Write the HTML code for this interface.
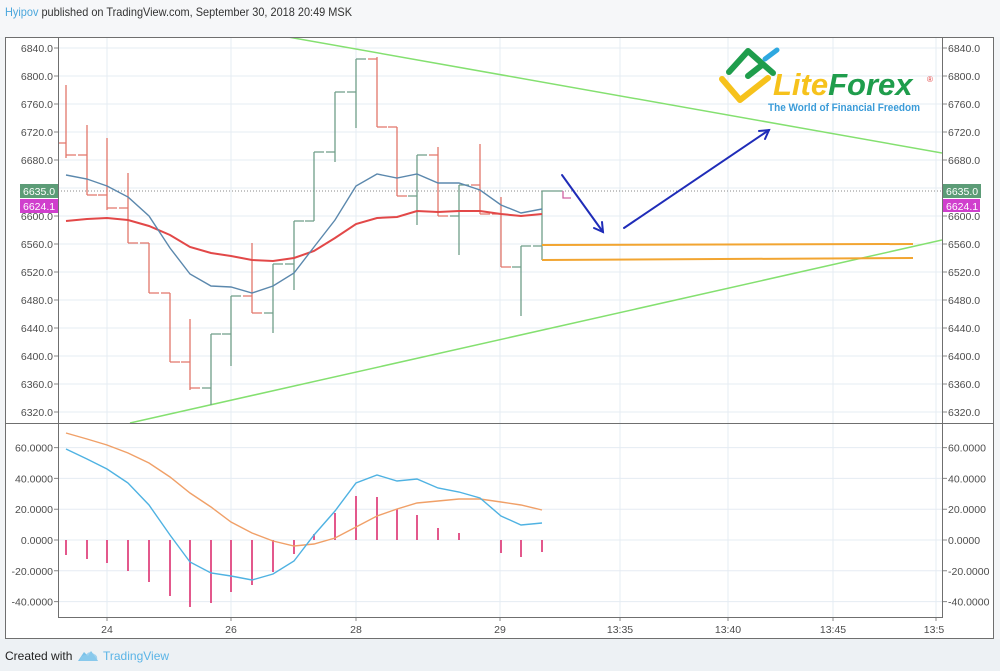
<!DOCTYPE html>
<html><head><meta charset="utf-8">
<style>
html,body{margin:0;padding:0;width:1000px;height:671px;overflow:hidden;background:#f3f5f7;}
svg{display:block;font-family:"Liberation Sans",sans-serif;}
</style></head>
<body>
<svg width="1000" height="671" viewBox="0 0 1000 671" xmlns="http://www.w3.org/2000/svg">
<rect x="0" y="0" width="1000" height="37" fill="#f6f7f9"/>
<rect x="0" y="639" width="1000" height="32" fill="#edf1f4"/>
<!-- header -->
<text x="5" y="16" font-size="12" fill="#333" textLength="347" lengthAdjust="spacingAndGlyphs"><tspan fill="#4aa6dc">Hyipov</tspan> published on TradingView.com, September 30, 2018 20:49 MSK</text>
<!-- frame -->
<rect x="5.5" y="37.5" width="988" height="601" fill="#ffffff" stroke="#6f6f6f" stroke-width="1"/>
<defs>
<clipPath id="cm"><rect x="58" y="38" width="884" height="385"/></clipPath>
<clipPath id="cl"><rect x="58" y="423" width="884" height="194"/></clipPath>
</defs>
<!-- grid -->
<g stroke="#e5ecf3" stroke-width="1">
<line x1="58" x2="942" y1="48" y2="48"/><line x1="58" x2="942" y1="76" y2="76"/><line x1="58" x2="942" y1="104" y2="104"/><line x1="58" x2="942" y1="132" y2="132"/><line x1="58" x2="942" y1="160" y2="160"/><line x1="58" x2="942" y1="188" y2="188"/><line x1="58" x2="942" y1="216" y2="216"/><line x1="58" x2="942" y1="244" y2="244"/><line x1="58" x2="942" y1="272" y2="272"/><line x1="58" x2="942" y1="300" y2="300"/><line x1="58" x2="942" y1="328" y2="328"/><line x1="58" x2="942" y1="356" y2="356"/><line x1="58" x2="942" y1="384" y2="384"/><line x1="58" x2="942" y1="412" y2="412"/>
<line x1="58" x2="942" y1="447.6" y2="447.6"/><line x1="58" x2="942" y1="478.4" y2="478.4"/><line x1="58" x2="942" y1="509.2" y2="509.2"/><line x1="58" x2="942" y1="540" y2="540"/><line x1="58" x2="942" y1="570.8" y2="570.8"/><line x1="58" x2="942" y1="601.6" y2="601.6"/>
<line x1="107" x2="107" y1="38" y2="617"/><line x1="231" x2="231" y1="38" y2="617"/><line x1="356" x2="356" y1="38" y2="617"/><line x1="500" x2="500" y1="38" y2="617"/><line x1="620" x2="620" y1="38" y2="617"/><line x1="728" x2="728" y1="38" y2="617"/><line x1="833" x2="833" y1="38" y2="617"/><line x1="936" x2="936" y1="38" y2="617"/>
</g>
<!-- logo -->
<g>
<polyline points="722,79 740,100 768,78" fill="none" stroke="#f6c21c" stroke-width="6" stroke-linecap="round" stroke-linejoin="round"/>
<polyline points="729,72 748,51 773,73" fill="none" stroke="#1f9d4c" stroke-width="6" stroke-linecap="round" stroke-linejoin="round"/>
<line x1="748" y1="76" x2="762" y2="65" stroke="#1f9d4c" stroke-width="6" stroke-linecap="round"/>
<line x1="765" y1="59" x2="777" y2="50" stroke="#2ea8e0" stroke-width="5" stroke-linecap="round"/>
<text x="773" y="95" font-size="31" font-weight="bold" font-style="italic"><tspan fill="#f6c21c">Lite</tspan><tspan fill="#1f9d4c">Forex</tspan></text>
<text x="927" y="82" font-size="8" fill="#e04040">®</text>
<text x="768" y="111" font-size="11" font-weight="bold" fill="#3a9bd8" textLength="152" lengthAdjust="spacingAndGlyphs">The World of Financial Freedom</text>
</g>
<!-- main plot -->
<g clip-path="url(#cm)">
<line x1="288" y1="37" x2="942" y2="153" stroke="#84e070" stroke-width="1.5"/>
<line x1="130" y1="423" x2="942" y2="240" stroke="#84e070" stroke-width="1.5"/>
<line x1="58" y1="191" x2="942" y2="191" stroke="#8a8a8a" stroke-width="1" stroke-dasharray="1,2"/>
<!-- bars -->
<g stroke="#e2766a" stroke-width="1.3" fill="none">
<path d="M66 85V158M58 143H66M66 155H76"/>
<path d="M87 125V195M78 155H87M87 195H97"/>
<path d="M107 138V210M98 195H107M107 208H117"/>
<path d="M128 173V243M119 208H128M128 243H138"/>
<path d="M149 243V293M140 243H149M149 293H159"/>
<path d="M170 293V362M161 293H170M170 362H180"/>
<path d="M190 319V390M181 362H190M190 388H200"/>
<path d="M252 243V313M243 296H252M252 313H262"/>
<path d="M377 57V127M368 59H377M377 127H387"/>
<path d="M397 127V196M388 127H397M397 196H407"/>
<path d="M438 147V216M429 155H438M438 216H448"/>
<path d="M480 144V214M471 185H480M480 214H490"/>
<path d="M501 197V267M492 214H501M501 267H511"/>
</g>
<g stroke="#d060a0" stroke-width="1.3" fill="none"><path d="M563 191V198H571"/></g>
<g stroke="#6f9e89" stroke-width="1.3" fill="none">
<path d="M211 334V405M202 388H211M211 334H221"/>
<path d="M231 296V366M222 334H231M231 296H241"/>
<path d="M273 264V333M264 313H273M273 264H283"/>
<path d="M294 221V290M285 264H294M294 221H304"/>
<path d="M314 152V221M305 221H314M314 152H324"/>
<path d="M335 92V162M326 152H335M335 92H345"/>
<path d="M356 59V128M347 92H356M356 59H366"/>
<path d="M417 155V225M408 196H417M417 155H427"/>
<path d="M459 185V255M450 216H459M459 185H469"/>
<path d="M521 246V316M512 267H521M521 246H531"/>
<path d="M542 191V260M533 246H542M542 191H562"/>
</g>
<polyline fill="none" stroke="#e24848" stroke-width="2" points="66,221 87,219 107,218 128,220 149,226 170,235 190,247 211,253 231,256 252,260 273,261 294,258 314,251 335,238 356,224 377,218 397,217 417,211 438,212 459,211 480,211 501,214 521,216 542,214"/>
<polyline fill="none" stroke="#5b88ad" stroke-width="1.4" points="66,175 87,179 107,186 128,197 149,216 170,248 190,274 211,286 231,287 252,293 273,286 294,273 314,247 335,220 356,186 377,174 397,178 417,174 438,183 459,183 480,190 501,205 521,213 542,209"/>
<line x1="542" y1="245" x2="913" y2="244" stroke="#f2a531" stroke-width="2"/>
<line x1="542" y1="260" x2="913" y2="258" stroke="#f2a531" stroke-width="2"/>
<g stroke="#1f2cb8" stroke-width="2" fill="none" stroke-linecap="round">
<line x1="562" y1="175" x2="603" y2="232"/><polyline points="602,222 603,232 594,228"/>
<line x1="624" y1="228" x2="769" y2="130"/><polyline points="759,131 769,130 765,139"/>
</g>
</g>
<!-- lower plot -->
<g clip-path="url(#cl)">
<g stroke="#e0457f" stroke-width="1.8">
<line x1="66" x2="66" y1="540" y2="555"/><line x1="87" x2="87" y1="540" y2="559"/><line x1="107" x2="107" y1="540" y2="563"/><line x1="128" x2="128" y1="540" y2="571"/><line x1="149" x2="149" y1="540" y2="582"/><line x1="170" x2="170" y1="540" y2="596"/><line x1="190" x2="190" y1="540" y2="607"/><line x1="211" x2="211" y1="540" y2="603"/><line x1="231" x2="231" y1="540" y2="592"/><line x1="252" x2="252" y1="540" y2="585"/><line x1="273" x2="273" y1="540" y2="572"/><line x1="294" x2="294" y1="540" y2="554"/><line x1="314" x2="314" y1="540" y2="534"/><line x1="335" x2="335" y1="540" y2="513"/><line x1="356" x2="356" y1="540" y2="496"/><line x1="377" x2="377" y1="540" y2="497"/><line x1="397" x2="397" y1="540" y2="509"/><line x1="417" x2="417" y1="540" y2="515"/><line x1="438" x2="438" y1="540" y2="528"/><line x1="459" x2="459" y1="540" y2="533"/><line x1="501" x2="501" y1="540" y2="553"/><line x1="521" x2="521" y1="540" y2="557"/><line x1="542" x2="542" y1="540" y2="552"/>
</g>
<polyline fill="none" stroke="#f0a068" stroke-width="1.4" points="66,433 87,439 107,445 128,453 149,463 170,477 190,493 211,507 231,522 252,533 273,541 294,546 314,544 335,538 356,527 377,516 397,509 417,503 438,501 459,499 480,499 501,502 521,505 542,510"/>
<polyline fill="none" stroke="#4fb2e2" stroke-width="1.4" points="66,449 87,459 107,469 128,483 149,505 170,535 190,562 211,573 231,576 252,580 273,574 294,561 314,535 335,511 356,483 377,475 397,481 417,479 438,488 459,492 480,498 501,516 521,525 542,523"/>
</g>
<!-- axes lines -->
<g stroke="#6f6f6f" stroke-width="1">
<line x1="58.5" y1="37" x2="58.5" y2="617"/>
<line x1="942.5" y1="37" x2="942.5" y2="617"/>
<line x1="5" y1="423.5" x2="994" y2="423.5"/>
<line x1="58" y1="617.5" x2="943" y2="617.5"/>
</g>
<g stroke="#888" stroke-width="1">
<path d="M54 48H58M54 76H58M54 104H58M54 132H58M54 160H58M54 188H58M54 216H58M54 244H58M54 272H58M54 300H58M54 328H58M54 356H58M54 384H58M54 412H58"/>
<path d="M943 48H947M943 76H947M943 104H947M943 132H947M943 160H947M943 188H947M943 216H947M943 244H947M943 272H947M943 300H947M943 328H947M943 356H947M943 384H947M943 412H947"/>
<path d="M54 447.6H58M54 478.4H58M54 509.2H58M54 540H58M54 570.8H58M54 601.6H58"/>
<path d="M943 447.6H947M943 478.4H947M943 509.2H947M943 540H947M943 570.8H947M943 601.6H947"/>
<path d="M107 618V621M231 618V621M356 618V621M500 618V621M620 618V621M728 618V621M833 618V621M936 618V621"/>
</g>
<!-- labels -->
<g font-size="10.5" fill="#4d4d4d" text-anchor="end">
<text x="53" y="52">6840.0</text><text x="53" y="80">6800.0</text><text x="53" y="108">6760.0</text><text x="53" y="136">6720.0</text><text x="53" y="164">6680.0</text><text x="53" y="220">6600.0</text><text x="53" y="248">6560.0</text><text x="53" y="276">6520.0</text><text x="53" y="304">6480.0</text><text x="53" y="332">6440.0</text><text x="53" y="360">6400.0</text><text x="53" y="388">6360.0</text><text x="53" y="416">6320.0</text>
<text x="53" y="451.6">60.0000</text><text x="53" y="482.4">40.0000</text><text x="53" y="513.2">20.0000</text><text x="53" y="544">0.0000</text><text x="53" y="574.8">-20.0000</text><text x="53" y="605.6">-40.0000</text>
</g>
<g font-size="10.5" fill="#4d4d4d">
<text x="948" y="52">6840.0</text><text x="948" y="80">6800.0</text><text x="948" y="108">6760.0</text><text x="948" y="136">6720.0</text><text x="948" y="164">6680.0</text><text x="948" y="220">6600.0</text><text x="948" y="248">6560.0</text><text x="948" y="276">6520.0</text><text x="948" y="304">6480.0</text><text x="948" y="332">6440.0</text><text x="948" y="360">6400.0</text><text x="948" y="388">6360.0</text><text x="948" y="416">6320.0</text>
<text x="948" y="451.6">60.0000</text><text x="948" y="482.4">40.0000</text><text x="948" y="513.2">20.0000</text><text x="948" y="544">0.0000</text><text x="948" y="574.8">-20.0000</text><text x="948" y="605.6">-40.0000</text>
</g>
<g font-size="10.5" fill="#4d4d4d" text-anchor="middle">
<text x="107" y="633">24</text><text x="231" y="633">26</text><text x="356" y="633">28</text><text x="500" y="633">29</text><text x="620" y="633">13:35</text><text x="728" y="633">13:40</text><text x="833" y="633">13:45</text><text x="934" y="633">13:5</text>
</g>
<!-- badges -->
<rect x="20" y="184" width="38" height="14" fill="#5c9c77"/>
<rect x="20" y="199" width="38" height="14" fill="#d03fcd"/>
<rect x="943" y="184" width="38" height="14" fill="#5c9c77"/>
<rect x="943" y="199" width="37" height="13" fill="#d03fcd"/>
<g font-size="10.5" fill="#ffffff">
<text x="23" y="195">6635.0</text><text x="23" y="210">6624.1</text>
<text x="946" y="195">6635.0</text><text x="946" y="210">6624.1</text>
</g>
<!-- footer -->
<text x="5" y="660" font-size="12" fill="#222">Created with</text>
<g fill="#6dbde8">
<path d="M78 661 L84 652 L88 656 L91 651 L98 661 Z" opacity="0.9"/>
<path d="M80 661 Q80 655 86 655 Q89 650 94 654 Q98 655 97 661 Z" fill="#8ccbec" opacity="0.8"/>
</g>
<text x="103" y="660" font-size="12" fill="#5ab4e6">TradingView</text>
</svg>
</body></html>
